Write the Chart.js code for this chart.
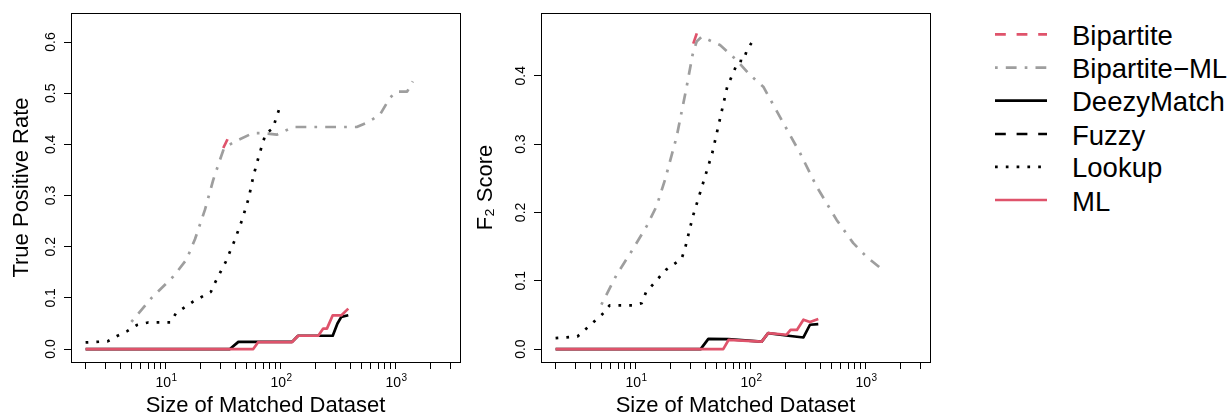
<!DOCTYPE html>
<html>
<head>
<meta charset="utf-8">
<script src="https://cdn.jsdelivr.net/npm/chart.js@4"></script>
<style>
  body { margin: 0; background: #fff; width: 1228px; height: 417px; overflow: hidden; position: relative; }
  canvas { position: absolute; top: 0; }
  #tpr { left: 0; }
  #f2 { left: 470px; }
  #legend { position: absolute; left: 940px; top: 0; }
</style>
</head>
<body>
<canvas id="tpr" width="470" height="417"></canvas>
<canvas id="f2" width="470" height="417"></canvas>
<svg id="legend" width="288" height="417"></svg>
<script>
// series (same order as the legend)
const seriesNames = ['Bipartite', 'Bipartite\u2212ML', 'DeezyMatch', 'Fuzzy', 'Lookup', 'ML'];

// axis ticks
const xTicks = [2, 3, 4, 5, 6, 7, 8, 9, 10, 20, 30, 40, 50, 60, 70, 80, 90,
                100, 200, 300, 400, 500, 600, 700, 800, 900, 1000, 2000, 3000];
const xMajorTicks = [10, 100, 1000];
const xMajorExps = ['1', '2', '3'];
const yTicksTpr = [0, 0.1, 0.2, 0.3, 0.4, 0.5, 0.6];
const yTicksF2 = [0, 0.1, 0.2, 0.3, 0.4];

// true positive rate panel
const bipartiteTprX = [31.5, 34.3];
const bipartiteTprY = [0.393, 0.410];
const bipartiteMlTprX = [5, 7.5, 11.6, 15.1, 17.9, 21.8, 25.8, 29.5, 32, 40, 57, 70, 92, 128, 456, 556, 726, 880, 1000, 1250, 1400];
const bipartiteMlTprY = [0.053, 0.100, 0.142, 0.175, 0.215, 0.272, 0.331, 0.370, 0.393, 0.406, 0.422, 0.422, 0.419, 0.434, 0.434, 0.442, 0.458, 0.490, 0.503, 0.503, 0.523];
const deezyTprX = [2, 36, 42.6, 125, 141, 282, 310, 335, 385];
const deezyTprY = [0, 0, 0.014, 0.014, 0.026, 0.026, 0.050, 0.063, 0.066];
const fuzzyTprX = [];
const fuzzyTprY = [];
const lookupTprX = [2, 3.1, 3.8, 4.6, 5.6, 7, 11, 12.2, 17.3, 24.6, 27, 33, 39.5, 46, 52.4, 57.4, 64.7, 73.6, 85.7, 90.5, 98];
const lookupTprY = [0.013, 0.015, 0.026, 0.035, 0.047, 0.052, 0.052, 0.070, 0.093, 0.112, 0.132, 0.170, 0.212, 0.253, 0.295, 0.337, 0.380, 0.421, 0.432, 0.451, 0.473];
const mlTprX = [2, 57.4, 63.5, 125, 141, 211, 233, 251, 282, 336, 385];
const mlTprY = [0, 0, 0.0137, 0.0137, 0.026, 0.026, 0.040, 0.040, 0.066, 0.066, 0.079];

// F2 score panel
const bipartiteF2X = [31.5, 34.3, 40];
const bipartiteF2Y = [0.447, 0.465, 0.468];
const bipartiteMlF2X = [5, 6.8, 9.3, 12.4, 15.1, 17.9, 22.6, 27.6, 31.1, 33.7, 37.2, 53.8, 75, 98, 128, 191, 267, 372, 556, 776, 1014, 1306];
const bipartiteMlF2Y = [0.065, 0.109, 0.145, 0.180, 0.209, 0.248, 0.311, 0.384, 0.431, 0.450, 0.457, 0.445, 0.423, 0.401, 0.384, 0.331, 0.287, 0.238, 0.189, 0.155, 0.135, 0.120];
const deezyF2X = [2, 36.5, 42.6, 63.5, 124, 141, 211, 286, 326, 385];
const deezyF2Y = [0, 0, 0.015, 0.0145, 0.011, 0.0234, 0.0195, 0.017, 0.0356, 0.0366];
const fuzzyF2X = [];
const fuzzyF2Y = [];
const lookupF2X = [2, 3.1, 5.1, 5.9, 9.3, 11.2, 12.2, 18.2, 24.9, 26.7, 31.1, 37.7, 46.1, 53.8, 62.2, 75.1, 79, 85.8, 92, 101];
const lookupF2Y = [0.016, 0.0185, 0.051, 0.064, 0.064, 0.067, 0.083, 0.116, 0.132, 0.147, 0.193, 0.239, 0.287, 0.337, 0.384, 0.416, 0.422, 0.421, 0.437, 0.448];
const mlF2X = [2, 57.4, 64, 124, 141, 204, 221, 251, 286, 326, 385];
const mlF2Y = [0, 0, 0.0136, 0.011, 0.0234, 0.021, 0.028, 0.028, 0.043, 0.0395, 0.044];

// styles
const seriesColors = ['#DF536B', '#9E9E9E', '#000000', '#000000', '#000000', '#DF536B'];
const seriesDash = [[10.8, 10.8], [2.7, 8.1, 10.8, 8.1], [], [10.8, 10.8], [2.7, 8.1], []];
const seriesOrder = [5, 4, 3, 2, 1, 0];
const lineWidth = 2.7;
const fontFamily = '"Liberation Sans", Arial, Helvetica, sans-serif';

// box round the plot region, rotated y tick labels and 10^k x labels (R style)
const frame = {
  id: 'frame',
  afterDraw(chart) {
    const { ctx, chartArea: a } = chart;
    const x = chart.scales.x;
    const y = chart.scales.y;
    ctx.save();
    ctx.strokeStyle = '#000';
    ctx.lineWidth = 1;
    ctx.strokeRect(Math.round(a.left) + 0.5, Math.round(a.top) + 0.5,
                   Math.round(a.right - a.left), Math.round(a.bottom - a.top));
    ctx.fillStyle = '#000';
    ctx.textBaseline = 'alphabetic';

    ctx.font = '14px ' + fontFamily;
    ctx.textAlign = 'center';
    y.ticks.forEach(t => {
      ctx.save();
      ctx.translate(55, y.getPixelForValue(t.value));
      ctx.rotate(-Math.PI / 2);
      ctx.fillText(t.value.toFixed(1), 0, 0);
      ctx.restore();
    });

    ctx.textAlign = 'left';
    xMajorTicks.forEach((v, i) => {
      const px = x.getPixelForValue(v);
      ctx.font = '14px ' + fontFamily;
      const wBase = ctx.measureText('10').width;
      ctx.font = '10px ' + fontFamily;
      const wExp = ctx.measureText(xMajorExps[i]).width;
      const x0 = px - (wBase + wExp) / 2;
      ctx.font = '14px ' + fontFamily;
      ctx.fillText('10', x0, 387);
      ctx.font = '10px ' + fontFamily;
      ctx.fillText(xMajorExps[i], x0 + wBase + 0.5, 380.5);
    });
    ctx.restore();
  }
};

function makePanel(id, yTitle, titlePad, yMin, yMax, yTicks, xs, ys) {
  const datasets = seriesNames.map((name, i) => ({
    label: name,
    data: xs[i].map((x, j) => ({ x: x, y: ys[i][j] })),
    borderColor: seriesColors[i],
    backgroundColor: seriesColors[i],
    borderDash: seriesDash[i],
    borderWidth: lineWidth,
    borderCapStyle: 'butt',
    borderJoinStyle: 'round',
    showLine: true,
    pointRadius: 0,
    tension: 0,
    fill: false,
    order: seriesOrder[i]
  }));

  return new Chart(document.getElementById(id), {
    type: 'scatter',
    data: { datasets: datasets },
    options: {
      responsive: false,
      animation: false,
      devicePixelRatio: 1,
      layout: { padding: { top: 13, right: 10, left: 0, bottom: 0 } },
      plugins: { legend: { display: false }, tooltip: { enabled: false } },
      scales: {
        x: {
          type: 'logarithmic',
          min: 1.493,
          max: 3606,
          bounds: 'data',
          afterBuildTicks: s => { s.ticks = xTicks.map(v => ({ value: v })); },
          afterFit: s => { s.height = 55; },
          grid: { drawOnChartArea: false, drawTicks: true, tickLength: 7, color: '#000', lineWidth: 1 },
          border: { display: false },
          ticks: { display: false, autoSkip: false },
          title: {
            display: true,
            text: 'Size of Matched Dataset',
            color: '#000',
            font: { family: fontFamily, size: 22, lineHeight: 1 },
            padding: { top: 0, bottom: 0 }
          }
        },
        y: {
          type: 'linear',
          min: yMin,
          max: yMax,
          bounds: 'data',
          afterBuildTicks: s => { s.ticks = yTicks.map(v => ({ value: v })); },
          afterFit: s => { s.width = 71; },
          grid: { drawOnChartArea: false, drawTicks: true, tickLength: 7, color: '#000', lineWidth: 1 },
          border: { display: false },
          ticks: { display: false },
          title: {
            display: true,
            text: yTitle,
            color: '#000',
            font: { family: fontFamily, size: 22, lineHeight: 1 },
            padding: { top: titlePad, bottom: 0 }
          }
        }
      }
    },
    plugins: [frame]
  });
}

makePanel('tpr', 'True Positive Rate', 11, -0.0253, 0.6568, yTicksTpr,
  [bipartiteTprX, bipartiteMlTprX, deezyTprX, fuzzyTprX, lookupTprX, mlTprX],
  [bipartiteTprY, bipartiteMlTprY, deezyTprY, fuzzyTprY, lookupTprY, mlTprY]);

makePanel('f2', 'F\u2082 Score', 5, -0.0189, 0.4918, yTicksF2,
  [bipartiteF2X, bipartiteMlF2X, deezyF2X, fuzzyF2X, lookupF2X, mlF2X],
  [bipartiteF2Y, bipartiteMlF2Y, deezyF2Y, fuzzyF2Y, lookupF2Y, mlF2Y]);

// legend on the right, built from the same series/style arrays
const legendRowY = [34.3, 67.6, 100.6, 134, 166.8, 200];
const svgNS = 'http://www.w3.org/2000/svg';
const legend = document.getElementById('legend');
seriesNames.forEach((name, i) => {
  const line = document.createElementNS(svgNS, 'line');
  line.setAttribute('x1', 55);
  line.setAttribute('x2', 107);
  line.setAttribute('y1', legendRowY[i]);
  line.setAttribute('y2', legendRowY[i]);
  line.setAttribute('stroke', seriesColors[i]);
  line.setAttribute('stroke-width', lineWidth);
  line.setAttribute('stroke-linecap', 'butt');
  if (seriesDash[i].length) line.setAttribute('stroke-dasharray', seriesDash[i].join(' '));
  legend.appendChild(line);

  const text = document.createElementNS(svgNS, 'text');
  text.setAttribute('x', 132);
  text.setAttribute('y', legendRowY[i] + 10.5);
  text.setAttribute('font-family', 'Liberation Sans, Arial, sans-serif');
  text.setAttribute('font-size', 27.5);
  text.setAttribute('fill', '#000');
  text.textContent = name;
  legend.appendChild(text);
});
</script>
</body>
</html>
